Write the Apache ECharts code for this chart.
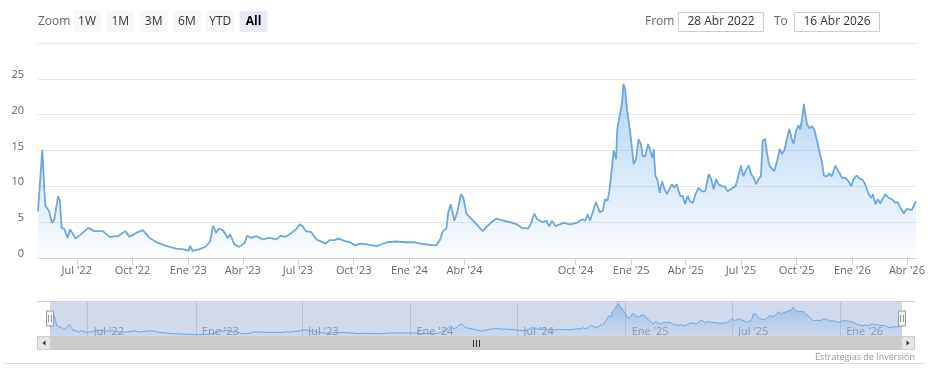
<!DOCTYPE html>
<html><head><meta charset="utf-8">
<script src="https://cdn.jsdelivr.net/npm/echarts@6/dist/echarts.min.js"></script>
<style>html,body{margin:0;padding:0;background:#fff}#c{width:930px;height:380px}</style>
</head><body><div id="c"></div>
<script>
const obsDates = [
'2022-04-28','2022-05-05','2022-05-10','2022-05-16','2022-05-21','2022-05-25','2022-05-31','2022-06-03','2022-06-06','2022-06-10','2022-06-16','2022-06-20','2022-06-29','2022-07-08','2022-07-20','2022-07-30','2022-08-13','2022-08-24','2022-09-07','2022-09-19','2022-09-26','2022-10-07','2022-10-18','2022-10-29','2022-11-12','2022-11-25','2022-12-12','2022-12-25',
'2023-01-02','2023-01-04','2023-01-08','2023-01-19','2023-01-30','2023-02-06','2023-02-11','2023-02-16','2023-02-20','2023-02-27','2023-03-07','2023-03-11','2023-03-18','2023-03-26','2023-04-04','2023-04-08','2023-04-15','2023-04-23','2023-05-04','2023-05-15','2023-05-26','2023-06-03','2023-06-11','2023-06-20','2023-06-28','2023-07-04','2023-07-09','2023-07-14','2023-07-23','2023-07-31','2023-08-11','2023-08-16','2023-08-22','2023-08-30','2023-09-06','2023-09-17','2023-09-25','2023-10-03','2023-10-12','2023-10-23','2023-11-08','2023-11-25','2023-12-11','2023-12-25',
'2024-01-08','2024-01-19','2024-02-01','2024-02-14','2024-02-21','2024-02-25','2024-03-02','2024-03-05','2024-03-09','2024-03-15','2024-03-20','2024-03-26','2024-03-30','2024-04-04','2024-04-13','2024-04-21','2024-05-01','2024-05-08','2024-05-18','2024-05-24','2024-06-04','2024-06-15','2024-06-26','2024-07-05','2024-07-15','2024-07-20','2024-07-25','2024-07-30','2024-08-07','2024-08-14','2024-08-19','2024-08-23','2024-08-29','2024-09-11','2024-09-22','2024-10-03','2024-10-12','2024-10-17','2024-10-21','2024-10-25','2024-10-31','2024-11-04','2024-11-10','2024-11-15','2024-11-19','2024-11-23','2024-11-26','2024-11-30','2024-12-03','2024-12-07','2024-12-09','2024-12-14','2024-12-17','2024-12-19','2024-12-22','2024-12-25','2024-12-27','2024-12-31',
'2025-01-05','2025-01-09','2025-01-13','2025-01-17','2025-01-20','2025-01-24','2025-01-29','2025-02-01','2025-02-05','2025-02-07','2025-02-10','2025-02-13','2025-02-17','2025-02-21','2025-02-25','2025-03-01','2025-03-05','2025-03-09','2025-03-13','2025-03-17','2025-03-23','2025-03-27','2025-03-31','2025-04-04','2025-04-08','2025-04-13','2025-04-17','2025-04-22','2025-04-28','2025-05-03','2025-05-06','2025-05-09','2025-05-13','2025-05-17','2025-05-21','2025-05-25','2025-05-31','2025-06-05','2025-06-09','2025-06-16','2025-06-22','2025-06-27','2025-07-01','2025-07-05','2025-07-10','2025-07-14','2025-07-18','2025-07-22','2025-07-26','2025-07-30','2025-08-03','2025-08-06','2025-08-10','2025-08-13','2025-08-17','2025-08-21','2025-08-25','2025-08-30','2025-09-03','2025-09-07','2025-09-11','2025-09-15','2025-09-19','2025-09-23','2025-09-26','2025-09-30','2025-10-04','2025-10-07','2025-10-10','2025-10-13','2025-10-15','2025-10-18','2025-10-22','2025-10-26','2025-10-30','2025-11-03','2025-11-08','2025-11-12','2025-11-15','2025-11-20','2025-11-24','2025-11-28','2025-12-04','2025-12-09','2025-12-15','2025-12-20','2025-12-26','2025-12-30',
'2026-01-03','2026-01-08','2026-01-13','2026-01-18','2026-01-22','2026-01-28','2026-02-01','2026-02-04','2026-02-08','2026-02-12','2026-02-16','2026-02-24','2026-03-02','2026-03-07','2026-03-13','2026-03-17','2026-03-21','2026-03-27','2026-03-31','2026-04-04','2026-04-09','2026-04-16'
];
const obsValues = [
6.5,15.1,7.3,6.6,4.9,5.4,8.6,8.0,4.2,4.1,2.8,4.0,2.7,3.3,4.2,3.75,3.75,2.95,3.05,3.75,2.95,3.5,3.9,2.8,2.1,1.7,1.3,1.2,
1.0,1.7,1.0,1.2,1.6,2.3,4.5,3.5,4.1,3.9,2.8,3.3,1.9,1.55,2.1,3.1,2.8,3.05,2.6,2.8,2.6,3.1,2.95,3.5,4.0,4.7,4.4,3.75,3.6,2.6,2.2,2.0,2.5,2.5,2.7,2.35,2.2,1.75,2.0,1.9,1.65,2.2,2.3,2.2,
2.2,2.0,1.85,1.75,2.6,3.75,4.1,6.3,7.5,5.2,6.4,8.9,8.4,6.2,5.4,4.7,3.75,4.4,5.2,5.5,5.2,5.0,4.7,4.2,4.1,4.9,6.2,5.4,5.0,5.2,4.4,5.2,4.45,4.9,4.7,4.9,5.4,5.2,6.1,5.2,6.8,7.8,6.4,6.6,8.2,8.0,9.4,12.4,15.0,13.8,18.0,20.3,21.7,24.3,23.6,20.8,20.6,17.1,
13.1,13.8,16.6,15.9,14.2,14.2,15.9,15.7,14.0,15.2,11.4,11.0,9.1,10.7,9.6,8.9,9.6,10.3,9.8,10.3,8.6,8.7,7.5,8.7,7.9,7.7,8.9,9.8,9.3,9.3,10.5,11.7,11.0,9.6,11.0,10.3,10.0,9.95,9.3,9.7,10.0,11.4,12.9,11.4,12.4,12.9,11.7,11.2,10.3,11.0,11.4,16.4,16.6,14.7,12.9,12.5,12.1,13.6,15.2,14.5,15.1,16.6,18.0,16.6,15.9,17.8,18.5,18.0,19.4,21.5,20.3,18.7,18.1,18.4,18.0,16.6,14.7,13.3,11.5,11.4,11.8,11.4,12.9,12.1,11.2,11.2,10.7,10.0,
11.0,11.5,11.1,10.9,10.3,8.9,8.4,8.9,7.5,8.2,7.6,8.9,8.4,8.2,7.7,7.8,7.0,6.2,6.8,6.8,6.7,7.9
];
const rangeStart = '2022-04-28';
const rangeEnd = '2026-04-16';
const mainTickDates = ['2022-07-01','2022-10-01','2023-01-01','2023-04-01','2023-07-01','2023-10-01','2024-01-01','2024-04-01','2024-10-01','2025-01-01','2025-04-01','2025-07-01','2025-10-01','2026-01-01','2026-04-01'];
const navTickDates = ['2022-07-01','2023-01-01','2023-07-01','2024-01-01','2024-07-01','2025-01-01','2025-07-01','2026-01-01'];
const monthNames = ['Ene','Feb','Mar','Abr','May','Jun','Jul','Ago','Sep','Oct','Nov','Dic'];
const zoomButtons = ['1W','1M','3M','6M','YTD','All'];
const selectedButton = 'All';
const fromLabel = '28 Abr 2022';
const toLabel = '16 Abr 2026';
const creditText = 'Estrategias de Inversión';

const FONT = '"Open Sans", sans-serif';
function ts(s){ const p = s.split('-').map(Number); return new Date(p[0], p[1]-1, p[2]).getTime(); }
function fmt(v){ const d = new Date(v); return monthNames[d.getMonth()] + " '" + String(d.getFullYear()).slice(2); }
const xMin = ts(rangeStart), xMax = ts(rangeEnd);
const seriesData = obsDates.map((d,i)=>[ts(d), obsValues[i]]);
const mainTicks = mainTickDates.map(ts);
const navTicks = navTickDates.map(ts);

const chart = echarts.init(document.getElementById('c'), null, {renderer:'canvas'});

const graphics = [];
graphics.push({type:'text', x:38, y:21.5, style:{text:'Zoom', verticalAlign:'middle', font:'12px '+FONT, fill:'#666'}});
zoomButtons.forEach((b,i)=>{
  const x = 73 + i*33.3; const sel = b===selectedButton;
  graphics.push({type:'rect', shape:{x:x, y:11, width:28, height:21, r:2}, style:{fill: sel?'#e6ebf5':'#f7f7f7'}});
  graphics.push({type:'text', x:x+14, y:21.5, style:{text:b, align:'center', verticalAlign:'middle', font:(sel?'bold ':'')+'12px '+FONT, fill: sel?'#000':'#333'}});
});
graphics.push({type:'text', x:645, y:21.5, style:{text:'From', verticalAlign:'middle', font:'12px '+FONT, fill:'#666'}});
graphics.push({type:'rect', shape:{x:678.5, y:12.5, width:85, height:19}, style:{fill:'#fff', stroke:'#ccc', lineWidth:1}});
graphics.push({type:'text', x:721, y:22, style:{text:fromLabel, align:'center', verticalAlign:'middle', font:'12px '+FONT, fill:'#333'}});
graphics.push({type:'text', x:774, y:21.5, style:{text:'To', verticalAlign:'middle', font:'12px '+FONT, fill:'#666'}});
graphics.push({type:'rect', shape:{x:794.5, y:12.5, width:85, height:19}, style:{fill:'#fff', stroke:'#ccc', lineWidth:1}});
graphics.push({type:'text', x:837, y:22, style:{text:toLabel, align:'center', verticalAlign:'middle', font:'12px '+FONT, fill:'#333'}});
graphics.push({type:'line', shape:{x1:37, y1:301.5, x2:915, y2:301.5}, style:{stroke:'#ccc', lineWidth:1}, z:50});
graphics.push({type:'rect', shape:{x:37, y:336, width:878, height:14}, style:{fill:'#f2f2f2'}, z:50});
graphics.push({type:'rect', shape:{x:50, y:336, width:852, height:14}, style:{fill:'#cccccc'}, z:51});
graphics.push({type:'rect', shape:{x:37.5, y:336.5, width:13, height:13}, style:{fill:'#e6e6e6', stroke:'#ccc', lineWidth:1}, z:52});
graphics.push({type:'rect', shape:{x:901.5, y:336.5, width:13, height:13}, style:{fill:'#e6e6e6', stroke:'#ccc', lineWidth:1}, z:52});
graphics.push({type:'polygon', shape:{points:[[42.5,343],[45.5,340.5],[45.5,345.5]]}, style:{fill:'#333'}, z:53});
graphics.push({type:'polygon', shape:{points:[[909.5,343],[906.5,340.5],[906.5,345.5]]}, style:{fill:'#333'}, z:53});
[-3,0,3].forEach(dx=>graphics.push({type:'line', shape:{x1:476.5+dx, y1:340, x2:476.5+dx, y2:347}, style:{stroke:'#333', lineWidth:1}, z:53}));
[50, 902].forEach(hx=>{
  graphics.push({type:'rect', shape:{x:hx-3.5, y:311, width:7, height:15}, style:{fill:'#f2f2f2', stroke:'#999', lineWidth:1}, z:60});
  [-1.5,1.5].forEach(dx=>graphics.push({type:'line', shape:{x1:hx+dx, y1:315, x2:hx+dx, y2:322}, style:{stroke:'#999', lineWidth:1}, z:61}));
});
graphics.push({type:'text', x:915, y:357, style:{text:creditText, align:'right', verticalAlign:'middle', font:'9px '+FONT, fill:'#999'}});
graphics.push({type:'line', shape:{x1:5, y1:363.5, x2:925, y2:363.5}, style:{stroke:'#ddd', lineWidth:1}});

const areaGrad = new echarts.graphic.LinearGradient(0,0,0,1,[
  {offset:0, color:'rgba(124,181,236,0.85)'},
  {offset:1, color:'rgba(124,181,236,0.04)'}
]);
const navGrad = new echarts.graphic.LinearGradient(0,0,0,1,[
  {offset:0, color:'rgba(100,160,225,0.7)'},
  {offset:1, color:'rgba(124,181,236,0.1)'}
]);

chart.setOption({
  animation:false,
  textStyle:{fontFamily:FONT},
  grid:[
    {left:38, top:43, width:878, height:215},
    {left:50, top:301, width:852, height:35}
  ],
  xAxis:[
    {type:'value', gridIndex:0, min:xMin, max:xMax, scale:true,
     axisLine:{show:true, lineStyle:{color:'#ccd6eb'}},
     axisTick:{show:true, length:7, customValues:mainTicks, lineStyle:{color:'#ccd6eb'}},
     axisLabel:{customValues:mainTicks, formatter:fmt, color:'#666', fontSize:11, fontFamily:FONT, margin:7, hideOverlap:false, showMinLabel:true, showMaxLabel:true},
     splitLine:{show:false}},
    {type:'value', gridIndex:1, min:xMin, max:xMax, scale:true,
     axisLine:{show:false}, axisTick:{show:false}, splitLine:{show:false},
     axisLabel:{customValues:navTicks, formatter:fmt, inside:true, align:'left', padding:[0,0,0,6], margin:-1, color:'#999', fontSize:11, fontFamily:FONT, hideOverlap:false, showMinLabel:true, showMaxLabel:true}}
  ],
  yAxis:[
    {type:'value', gridIndex:0, min:0, max:30, interval:5,
     axisLine:{show:false}, axisTick:{show:false},
     axisLabel:{showMaxLabel:false, color:'#666', fontSize:11, fontFamily:FONT, margin:14, verticalAlign:'bottom', lineHeight:8},
     splitLine:{show:true, lineStyle:{color:'#e6e6e6'}}},
    {type:'value', gridIndex:1, min:0, max:26, show:false}
  ],
  graphic: graphics,
  series:[
    {type:'line', xAxisIndex:0, yAxisIndex:0, data:seriesData, showSymbol:false, symbol:'none',
     lineStyle:{color:'#6fa7dd', width:1.8}, areaStyle:{color:areaGrad}, z:3},
    {type:'line', xAxisIndex:1, yAxisIndex:1, data:seriesData, showSymbol:false, symbol:'none',
     lineStyle:{color:'#6fa7dd', width:1}, areaStyle:{color:navGrad}, z:3,
     markArea:{silent:true, itemStyle:{color:'rgba(102,133,194,0.3)'}, data:[[{xAxis:xMin},{xAxis:xMax}]]},
     markLine:{silent:true, symbol:['none','none'], label:{show:false}, lineStyle:{color:'rgba(140,150,170,0.35)', width:1, type:'solid'},
       data: navTicks.map(t=>({xAxis:t}))}}
  ]
});
</script></body></html>
